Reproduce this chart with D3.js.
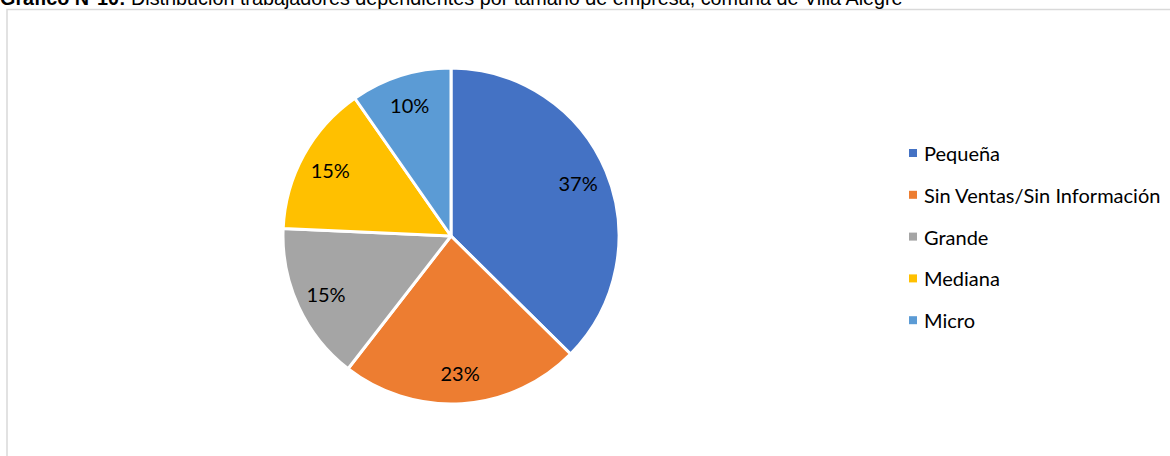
<!DOCTYPE html>
<html>
<head>
<meta charset="utf-8">
<script src="https://cdn.jsdelivr.net/npm/d3@7"></script>
<style>
  html, body { margin: 0; padding: 0; background: #fff; }
  svg { display: block; }
</style>
</head>
<body>
<svg id="chart" width="1170" height="456"></svg>
<script>
const categories = ["Pequeña", "Sin Ventas/Sin Información", "Grande", "Mediana", "Micro"];
const values = [37.4, 23.1, 15.2, 14.6, 9.7];
const colors = ["#4472C4", "#ED7D31", "#A5A5A5", "#FFC000", "#5B9BD5"];
const titleBold = "Gráfico N°10:";
const titleRest = " Distribución trabajadores dependientes por tamaño de empresa, comuna de Villa Alegre";

const svg = d3.select("#chart");
const W = 1170, H = 456;

// frame
svg.append("rect")
  .attr("x", 7).attr("y", 9.5)
  .attr("width", W + 10).attr("height", H + 10)
  .attr("fill", "#fff").attr("stroke", "#d9d9d9").attr("stroke-width", 1.5);

// title (clipped at top as in the reference)
const title = svg.append("text")
  .attr("x", 0).attr("y", 5)
  .attr("font-family", "Liberation Sans, Arial, sans-serif")
  .attr("font-size", 19.8).attr("fill", "#000");
title.append("tspan").attr("font-weight", "bold").text(titleBold);
title.append("tspan").text(titleRest);

// pie
const cx = 451, cy = 236, R = 168;
const total = d3.sum(values);
const pie = d3.pie().sort(null).value(d => d)(values);
const arc = d3.arc().innerRadius(0).outerRadius(R);
const labelArc = d3.arc().innerRadius(R * 0.82).outerRadius(R * 0.82);
const color = d3.scaleOrdinal().domain(categories).range(colors);

const g = svg.append("g").attr("transform", `translate(${cx},${cy})`);
g.selectAll("path.slice").data(pie).join("path")
  .attr("class", "slice")
  .attr("d", arc)
  .attr("fill", (d, i) => color(categories[i]))
  .attr("stroke", "#fff").attr("stroke-width", 3).attr("stroke-linejoin", "round");

g.selectAll("text.lbl").data(pie).join("text")
  .attr("class", "lbl")
  .attr("transform", d => `translate(${labelArc.centroid(d)})`)
  .attr("text-anchor", "middle").attr("dominant-baseline", "central")
  .attr("font-family", "Lato, sans-serif").attr("font-size", 20).attr("fill", "#000")
  .text(d => Math.round(d.data / total * 100) + "%");

// legend
const legend = svg.append("g").attr("transform", "translate(909,153)");
const rowH = 41.8;
const item = legend.selectAll("g").data(categories).join("g")
  .attr("transform", (d, i) => `translate(0,${i * rowH})`);
item.append("rect").attr("x", 0).attr("y", -4).attr("width", 8).attr("height", 8)
  .attr("fill", d => color(d));
item.append("text").attr("x", 15).attr("y", 0)
  .attr("dominant-baseline", "central")
  .attr("font-family", "Lato, sans-serif").attr("font-size", 20).attr("fill", "#000")
  .text(d => d);
</script>
</body>
</html>
